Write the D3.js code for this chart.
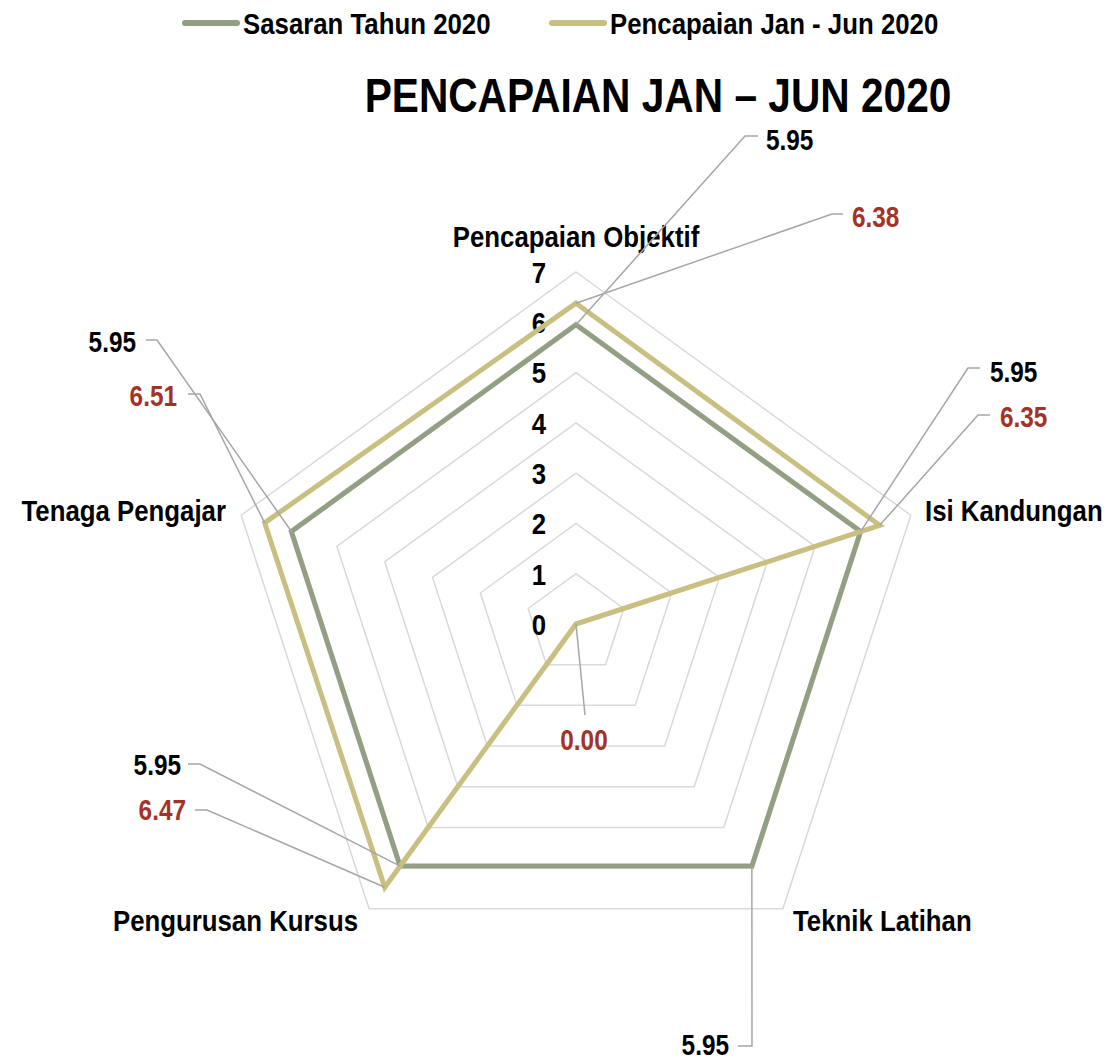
<!DOCTYPE html>
<html>
<head>
<meta charset="utf-8">
<script src="https://cdn.jsdelivr.net/npm/d3@7"></script>
<style>
  html, body { margin: 0; padding: 0; background: #fff; }
  svg text { font-family: "Liberation Sans Narrow", "Arial Narrow", "Liberation Sans", Arial, sans-serif; font-weight: bold; }
</style>
</head>
<body>
<svg width="1118" height="1061"></svg>
<script>
const categories = ['Pencapaian Objektif', 'Isi Kandungan', 'Teknik Latihan', 'Pengurusan Kursus', 'Tenaga Pengajar'];
const sasaran = [5.95, 5.95, 5.95, 5.95, 5.95];
const pencapaian = [6.38, 6.35, 0.00, 6.47, 6.51];
const ticks = [0, 1, 2, 3, 4, 5, 6, 7];
const seriesNames = ['Sasaran Tahun 2020', 'Pencapaian Jan - Jun 2020'];

const colors = ['#939f83', '#c8bf80'];
const labelColors = ['#000000', '#a33327'];

const svg = d3.select('svg');
const cx = 576, cy = 624;
const narrow = 0.86; // no narrow font installed, squeeze the regular one

const r = d3.scaleLinear().domain([0, 7]).range([0, 352]);
const angle = d3.scalePoint().domain(d3.range(categories.length + 1)).range([0, 2 * Math.PI]);
const pt = (v, i) => {
    const a = angle(i) - Math.PI / 2;
    return [cx + r(v) * Math.cos(a), cy + r(v) * Math.sin(a)];
};

function label(g, x, y, txt, opts) {
    const o = Object.assign({ size: 30, anchor: 'start', fill: '#000', dy: null, sx: narrow }, opts);
    return g.append('text')
        .attr('transform', `translate(${x},${y}) scale(${o.sx},1)`)
        .attr('dy', o.dy)
        .attr('text-anchor', o.anchor)
        .attr('font-size', o.size)
        .attr('fill', o.fill)
        .text(txt);
}

// grid pentagons
ticks.forEach(t => {
    svg.append('path')
        .attr('d', d3.line()(categories.map((c, i) => pt(t, i))) + 'Z')
        .attr('fill', 'none')
        .attr('stroke', '#d9d9d9')
        .attr('stroke-width', 1.5);
});

// tick labels
const tickG = svg.append('g');
ticks.forEach(t => label(tickG, 546, cy - r(t), t, { anchor: 'end', dy: '0.36em' }));

// category labels
const catPos = [
    { x: 576, y: 247, anchor: 'middle' },
    { x: 925, y: 521, anchor: 'start' },
    { x: 793, y: 931, anchor: 'start' },
    { x: 358, y: 931, anchor: 'end' },
    { x: 226, y: 521, anchor: 'end' },
];
const catG = svg.append('g');
categories.forEach((c, i) => label(catG, catPos[i].x, catPos[i].y, c, { anchor: catPos[i].anchor }));

// series lines
const radial = d3.lineRadial()
    .angle((d, i) => angle(i))
    .radius(d => r(d))
    .curve(d3.curveLinearClosed);

[sasaran, pencapaian].forEach((s, k) => {
    svg.append('path')
        .datum(s)
        .attr('transform', `translate(${cx},${cy})`)
        .attr('d', radial)
        .attr('fill', 'none')
        .attr('stroke', colors[k])
        .attr('stroke-width', 5)
        .attr('stroke-linejoin', 'miter');
});

// data labels with leader lines: elbow point, end of horizontal tick, text anchor
const labelPos = [
    [
        { ex: 745, ey: 136, hx: 758, tx: 766, ty: 140, anchor: 'start' },
        { ex: 968, ey: 368, hx: 980, tx: 990, ty: 372, anchor: 'start' },
        { ex: 752, ey: 1046, hx: 738, tx: 729, ty: 1045, anchor: 'end' },
        { ex: 200, ey: 764, hx: 188, tx: 181, ty: 765, anchor: 'end' },
        { ex: 157, ey: 340, hx: 146, tx: 136, ty: 342, anchor: 'end' },
    ],
    [
        { ex: 832, ey: 214, hx: 843, tx: 852, ty: 217, anchor: 'start' },
        { ex: 978, ey: 415, hx: 990, tx: 1000, ty: 417, anchor: 'start' },
        { ex: 585, ey: 715, hx: 585, tx: 584, ty: 740, anchor: 'middle' },
        { ex: 207, ey: 810, hx: 195, tx: 186, ty: 810, anchor: 'end' },
        { ex: 200, ey: 394, hx: 188, tx: 177, ty: 396, anchor: 'end' },
    ],
];

[sasaran, pencapaian].forEach((s, k) => {
    const g = svg.append('g');
    s.forEach((v, i) => {
        const p = pt(v, i);
        const L = labelPos[k][i];
        g.append('path')
            .attr('d', d3.line()([p, [L.ex, L.ey], [L.hx, L.ey]]))
            .attr('fill', 'none')
            .attr('stroke', '#a6a6a6')
            .attr('stroke-width', 1.5);
        label(g, L.tx, L.ty, d3.format('.2f')(v), { anchor: L.anchor, dy: '0.36em', fill: labelColors[k], size: 29, sx: 0.84 });
    });
});

// title
label(svg, 658, 112, 'PENCAPAIAN JAN – JUN 2020', { anchor: 'middle', size: 49, sx: 0.83 });

// legend
const legendX = [183, 550];
seriesNames.forEach((name, i) => {
    const g = svg.append('g').attr('transform', `translate(${legendX[i]},23)`);
    g.append('line')
        .attr('x1', 2).attr('x2', 54)
        .attr('stroke', colors[i])
        .attr('stroke-width', 6)
        .attr('stroke-linecap', 'round');
    label(g, 60, 0, name, { dy: '0.36em' });
});
</script>
</body>
</html>
